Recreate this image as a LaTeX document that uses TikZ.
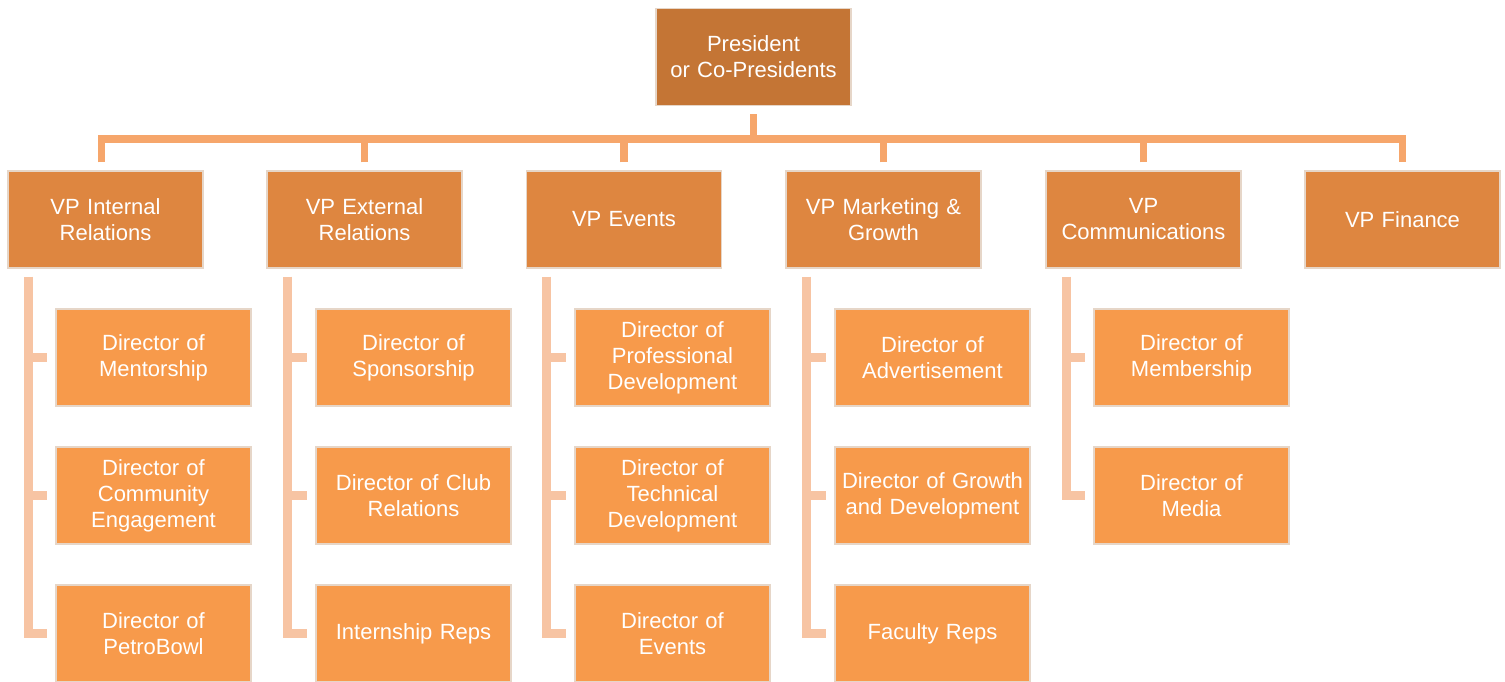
\documentclass[tikz,border=0pt]{standalone}
\usepackage{fontspec}
\setmainfont{Liberation Sans}
\definecolor{presC}{HTML}{C47535}
\definecolor{vpC}{HTML}{DE8640}
\definecolor{dirC}{HTML}{F79A4B}
\definecolor{topL}{HTML}{F6A66B}
\definecolor{sideL}{HTML}{F7C4A3}
\definecolor{edgeC}{HTML}{E6D6C8}
\tikzset{
  box/.style={draw=edgeC, line width=1.2pt, minimum width=195pt, minimum height=97pt,
    inner sep=0pt, text width=192pt, align=center, text=white,
    font=\fontsize{22}{26}\selectfont},
  presbox/.style={box, fill=presC},
  vpbox/.style={box, fill=vpC},
  dirbox/.style={box, fill=dirC},
  topline/.style={draw=topL, line width=7.5pt, line join=miter},
  sideline/.style={draw=sideL, line width=9pt, line join=miter},
}
\begin{document}
\begin{tikzpicture}[x=1pt,y=-1pt]
\useasboundingbox (0,0) rectangle (1505,681);
\clip (0,0) rectangle (1505,681);
\fill[white] (0,0) rectangle (1505,681);
\node[presbox] (pres) at (753.5,57) {President\\or Co-Presidents};
\coordinate (bar) at (753.5,139);
% VPs
\node[vpbox] (vp1) at (105.5,219.5) {VP Internal\\Relations};
\node[vpbox] (vp2) at (364.5,219.5) {VP External\\Relations};
\node[vpbox] (vp3) at (624,219.5) {VP Events};
\node[vpbox] (vp4) at (883.5,219.5) {VP Marketing \&\\Growth};
\node[vpbox] (vp5) at (1143.5,219.5) {VP\\Communications};
\node[vpbox] (vp6) at (1402.5,219.5) {VP Finance};
% directors
\node[dirbox] (d11) at (153.5,357.5) {Director of\\Mentorship};
\node[dirbox] (d12) at (153.5,495.5) {Director of\\Community\\Engagement};
\node[dirbox] (d13) at (153.5,633.5) {Director of\\PetroBowl};
\node[dirbox] (d21) at (413.5,357.5) {Director of\\Sponsorship};
\node[dirbox] (d22) at (413.5,495.5) {Director of Club\\Relations};
\node[dirbox] (d23) at (413.5,633.5) {Internship Reps};
\node[dirbox] (d31) at (672.5,357.5) {Director of\\Professional\\Development};
\node[dirbox] (d32) at (672.5,495.5) {Director of\\Technical\\Development};
\node[dirbox] (d33) at (672.5,633.5) {Director of\\Events};
\node[dirbox] (d41) at (932.5,357.5) {Director of\\Advertisement};
\node[dirbox] (d42) at (932.5,495.5) {Director of Growth\\and Development};
\node[dirbox] (d43) at (932.5,633.5) {Faculty Reps};
\node[dirbox] (d51) at (1191.5,357.5) {Director of\\Membership};
\node[dirbox] (d52) at (1191.5,495.5) {Director of\\Media};
% top tree
\draw[topline] ([yshift=-8pt]pres.south) -- (pres.south |- bar);
\draw[topline] ([xshift=-4pt,yshift=8pt]vp1.north) |- (bar) -| ([yshift=8pt]vp6.north);
\foreach \v in {vp2,vp3,vp4,vp5}{
  \draw[topline] ([yshift=8pt]\v.north) -- (\v.north |- bar);
}
% side trees
\foreach \v/\a/\b/\c in {vp1/d11/d12/d13, vp2/d21/d22/d23, vp3/d31/d32/d33, vp4/d41/d42/d43}{
  \draw[sideline] ([xshift=-77.5pt,yshift=-8pt]\v.south) |- ([xshift=-8pt]\c.west);
  \draw[sideline] ([xshift=-77.5pt]\v.south |- \a.west) -- ([xshift=-8pt]\a.west);
  \draw[sideline] ([xshift=-77.5pt]\v.south |- \b.west) -- ([xshift=-8pt]\b.west);
}
\draw[sideline] ([xshift=-77.5pt,yshift=-8pt]vp5.south) |- ([xshift=-8pt]d52.west);
\draw[sideline] ([xshift=-77.5pt]vp5.south |- d51.west) -- ([xshift=-8pt]d51.west);
\end{tikzpicture}
\end{document}
